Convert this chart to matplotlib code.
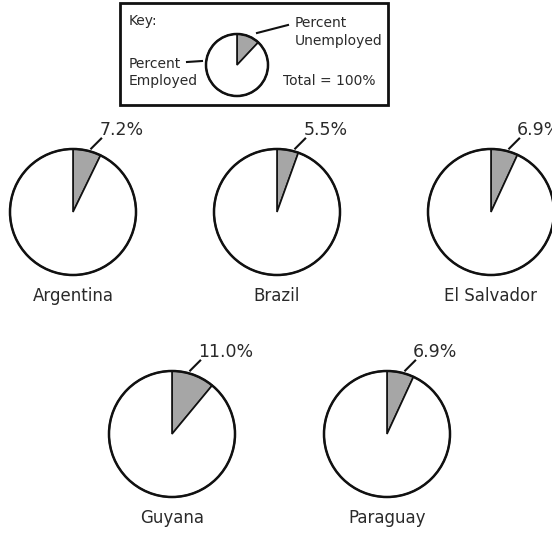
import matplotlib.pyplot as plt
import numpy as np
from matplotlib.patches import Rectangle, Circle

plt.rcParams['font.family'] = 'DejaVu Sans'

# data
countries = ['Argentina', 'Brazil', 'El Salvador', 'Guyana', 'Paraguay']
unemployed = [7.2, 5.5, 6.9, 11.0, 6.9]
key_unemployed = 12.0

W, H = 552, 534
fig = plt.figure(figsize=(W / 100, H / 100), dpi=100)
ax = fig.add_axes([0, 0, 1, 1])

# pixel layout (y measured from top)
centers = [(73, 212), (277, 212), (491, 212), (172, 434), (387, 434)]
radius = 63
txt_color = '#2a2a2a'
gray = '#a6a6a6'


def draw_pie(cx, cy, r, pct):
    y = H - cy
    ax.pie([pct, 100 - pct], colors=[gray, 'white'], startangle=90, counterclock=False,
           center=(cx, y), radius=r,
           wedgeprops=dict(edgecolor='#111111', linewidth=1.2))
    ax.add_patch(Circle((cx, y), r, fill=False, edgecolor='#111111', linewidth=1.8, zorder=5))


for name, pct, (cx, cy) in zip(countries, unemployed, centers):
    draw_pie(cx, cy, radius, pct)
    a = np.deg2rad(74)
    x0 = cx + (radius + 3) * np.cos(a)
    y0 = H - cy + (radius + 3) * np.sin(a)
    x1, y1 = x0 + 10, y0 + 10
    ax.plot([x0, x1], [y0, y1], color='#111111', lw=1.5)
    ax.text(x1 - 2, y1 + 9, f'{pct:.1f}%', fontsize=12.5, color=txt_color, ha='left', va='center')
    ax.text(cx, H - (cy + radius + 21), name, fontsize=12, color=txt_color, ha='center', va='center')

# key box
ax.add_patch(Rectangle((120, H - 105), 268, 102, fill=False, edgecolor='#111111', linewidth=2.0))
draw_pie(237, 65, 31, key_unemployed)
key_txt = dict(fontsize=10, color=txt_color, ha='left', va='center')
ax.text(129, H - 21, 'Key:', **key_txt)
ax.text(295, H - 23, 'Percent', **key_txt)
ax.text(295, H - 41, 'Unemployed', **key_txt)
ax.text(129, H - 64, 'Percent', **key_txt)
ax.text(129, H - 81, 'Employed', **key_txt)
ax.text(283, H - 81, 'Total = 100%', **key_txt)
ax.plot([257, 288], [H - 33, H - 25], color='#111111', lw=1.5)
ax.plot([187, 202], [H - 62, H - 61], color='#111111', lw=1.5)

ax.set_xlim(0, W)
ax.set_ylim(0, H)
ax.set_aspect('equal')
ax.axis('off')

fig.savefig('out.png', dpi=100)
